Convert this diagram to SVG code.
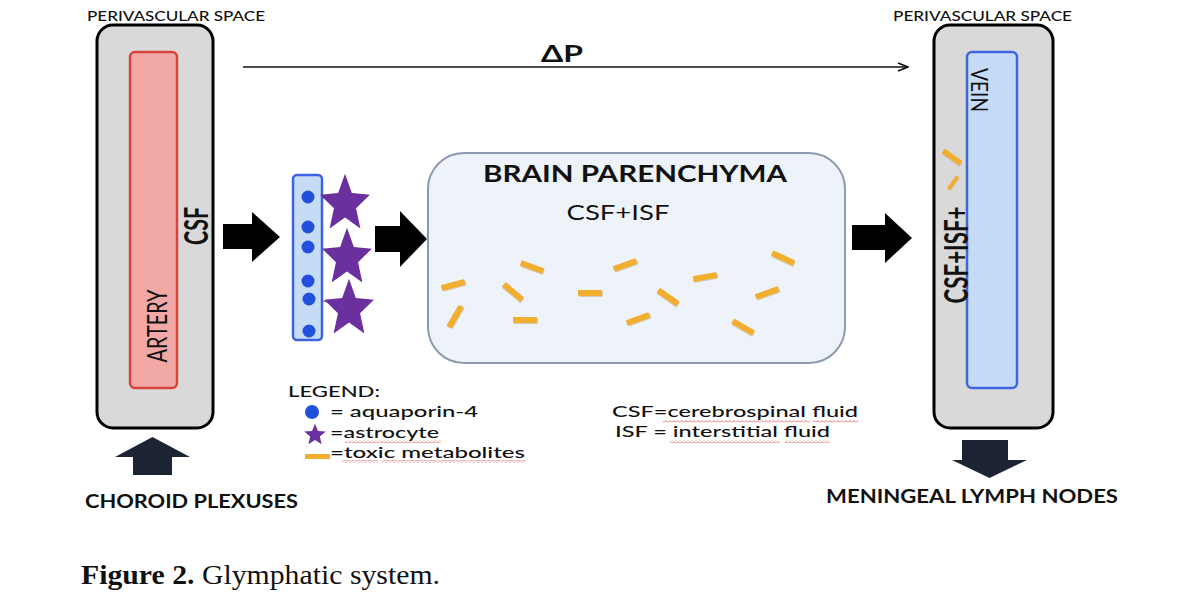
<svg xmlns="http://www.w3.org/2000/svg" width="1200" height="604" viewBox="0 0 1200 604">
<style>
.sans{font-family:Lato,"Open Sans","Liberation Sans",sans-serif;fill:#111}
.bold{font-weight:bold}
.peri{fill:#d9d9d9;stroke:#000;stroke-width:3}
.artery{fill:#f2a9a6;stroke:#d8433c;stroke-width:2.5}
.vein{fill:#c6dbf7;stroke:#3f66e0;stroke-width:2.5}
.big{fill:#1c2333}
.star{fill:#6b2f9e}
.aqp{fill:#2151dc}
.sq{fill:url(#squig)}
</style>
<defs>
<g id="met">
<rect x="-11" y="-2" width="24" height="6" rx="1" fill="#b99a72" opacity="0.45"/>
<rect x="-12" y="-3" width="24" height="6" rx="1" fill="#f2ae2e"/>
</g>
<path id="starp" d="M0,-27 L7.05,-9.71 L25.68,-8.34 L11.41,3.71 L15.87,21.84 L0,12 L-15.87,21.84 L-11.41,3.71 L-25.68,-8.34 L-7.05,-9.71 Z"/>
<marker id="open" viewBox="0 0 12 10" refX="11" refY="5" markerWidth="12" markerHeight="10" markerUnits="userSpaceOnUse" orient="auto">
<path d="M1,1 L11,5 L1,9" fill="none" stroke="#111" stroke-width="1.6"/>
</marker>
<pattern id="squig" width="4" height="3" patternUnits="userSpaceOnUse">
<path d="M0,2.5 L2,0.5 L4,2.5" fill="none" stroke="#e05050" stroke-width="0.8"/>
</pattern>
</defs>
<rect width="1200" height="604" fill="#fff"/>

<g id="left-perivascular">
<text class="sans" x="87" y="21" font-size="13" font-weight="500" textLength="178" lengthAdjust="spacingAndGlyphs">PERIVASCULAR SPACE</text>
<rect class="peri" x="97" y="25" width="116" height="403" rx="16"/>
<g id="artery">
<rect class="artery" x="130" y="52" width="47" height="336" rx="5"/>
<text class="sans" transform="translate(167,326) rotate(-90)" text-anchor="middle" font-size="27" textLength="73" lengthAdjust="spacingAndGlyphs">ARTERY</text>
</g>
<text class="sans bold" transform="translate(208,226) rotate(-90)" text-anchor="middle" font-size="33" textLength="38" lengthAdjust="spacingAndGlyphs">CSF</text>
</g>

<g id="right-perivascular">
<text class="sans" x="893" y="21" font-size="13" font-weight="500" textLength="179" lengthAdjust="spacingAndGlyphs">PERIVASCULAR SPACE</text>
<rect class="peri" x="934" y="25" width="119" height="403" rx="16"/>
<g id="vein">
<rect class="vein" x="967" y="52" width="50" height="336" rx="5"/>
<text class="sans" transform="translate(971,90) rotate(90)" text-anchor="middle" font-size="24" textLength="44" lengthAdjust="spacingAndGlyphs">VEIN</text>
</g>
<text class="sans bold" transform="translate(968,255) rotate(-90)" text-anchor="middle" font-size="33" textLength="97" lengthAdjust="spacingAndGlyphs">CSF+ISF+</text>
<use href="#met" transform="translate(952,157) rotate(35) scale(0.9)"/>
<use href="#met" transform="translate(953,183) rotate(-55) scale(0.65)"/>
</g>

<g id="astrocyte-membrane">
<line x1="308" y1="197" x2="335" y2="199" stroke="#777" stroke-width="1"/>
<line x1="308" y1="247" x2="335" y2="251" stroke="#777" stroke-width="1"/>
<line x1="309" y1="299" x2="335" y2="303" stroke="#777" stroke-width="1"/>
<rect x="293" y="175" width="29" height="165" rx="4" fill="#c6dbf5" stroke="#3d63e0" stroke-width="2.5"/>
<circle class="aqp" cx="308" cy="197" r="6.5"/>
<circle class="aqp" cx="308" cy="227" r="6.5"/>
<circle class="aqp" cx="308" cy="247" r="6.5"/>
<circle class="aqp" cx="308" cy="281" r="6.5"/>
<circle class="aqp" cx="309" cy="299" r="6.5"/>
<circle class="aqp" cx="309" cy="331" r="6.5"/>
<use class="star" href="#starp" transform="translate(345,204) scale(0.97,1.12)"/>
<use class="star" href="#starp" transform="translate(347,258) scale(0.97,1.12)"/>
<use class="star" href="#starp" transform="translate(349,309) scale(0.97,1.12)"/>
</g>

<g id="brain-parenchyma">
<rect x="428" y="153" width="417" height="210" rx="36" fill="#eef3fa" stroke="#8c9bb0" stroke-width="2"/>
<text class="sans bold" x="635" y="182" text-anchor="middle" font-size="22" textLength="304" lengthAdjust="spacingAndGlyphs">BRAIN PARENCHYMA</text>
<text class="sans" x="618" y="220" text-anchor="middle" font-size="21" textLength="103" lengthAdjust="spacingAndGlyphs">CSF+ISF</text>
<use href="#met" transform="translate(453,285) rotate(-15)"/>
<use href="#met" transform="translate(455,317) rotate(-60)"/>
<use href="#met" transform="translate(532,267) rotate(20)"/>
<use href="#met" transform="translate(513,292) rotate(40)"/>
<use href="#met" transform="translate(525,320)"/>
<use href="#met" transform="translate(590,293)"/>
<use href="#met" transform="translate(625,265) rotate(-20)"/>
<use href="#met" transform="translate(638,319) rotate(-20)"/>
<use href="#met" transform="translate(668,297) rotate(35)"/>
<use href="#met" transform="translate(705,277) rotate(-10)"/>
<use href="#met" transform="translate(783,258) rotate(25)"/>
<use href="#met" transform="translate(767,293) rotate(-20)"/>
<use href="#met" transform="translate(743,327) rotate(30)"/>
</g>

<g id="connectors">
<line x1="243" y1="67" x2="908" y2="67" stroke="#111" stroke-width="1.6" marker-end="url(#open)"/>
<text class="sans bold" x="562" y="62" text-anchor="middle" font-size="23" textLength="42" lengthAdjust="spacingAndGlyphs">ΔP</text>
<polygon fill="#000" points="223,224 252,224 252,212 280,237 252,262 252,249 223,249"/>
<polygon fill="#000" points="375,226 400,226 400,211 427,239 400,267 400,252 375,252"/>
<polygon fill="#000" points="852,225 885,225 885,213 912,238 885,263 885,250 852,250"/>
<polygon class="big" points="133,475 133,457 115,457 152.5,437 190,457 172,457 172,475"/>
<polygon class="big" points="962,440 1008,440 1008,460 1027,460 989.5,478 952,460 962,460"/>
</g>

<g id="choroid-plexuses">
<text class="sans bold" x="85" y="508" font-size="18" textLength="213" lengthAdjust="spacingAndGlyphs">CHOROID PLEXUSES</text>
</g>
<g id="meningeal-lymph-nodes">
<text class="sans bold" x="826" y="503" font-size="18" textLength="292" lengthAdjust="spacingAndGlyphs">MENINGEAL LYMPH NODES</text>
</g>

<g id="legend">
<text class="sans" x="288" y="397" font-size="16" font-weight="500" textLength="92" lengthAdjust="spacingAndGlyphs">LEGEND:</text>
<circle class="aqp" cx="312" cy="412" r="7"/>
<text class="sans" x="330" y="417" font-size="16" font-weight="500" textLength="148" lengthAdjust="spacingAndGlyphs">= aquaporin-4</text>
<use class="star" href="#starp" transform="translate(315,435) scale(0.42)"/>
<text class="sans" x="330" y="438" font-size="16" font-weight="500" textLength="109" lengthAdjust="spacingAndGlyphs">=astrocyte</text>
<rect x="305" y="454" width="25" height="5" fill="#f2ae2e"/>
<text class="sans" x="330" y="458" font-size="16" font-weight="500" textLength="195" lengthAdjust="spacingAndGlyphs">=toxic metabolites</text>
<rect class="sq" x="345" y="440" width="96" height="3"/>
<rect class="sq" x="342" y="460" width="36" height="3"/>
<rect class="sq" x="382" y="460" width="144" height="3"/>
</g>

<g id="abbreviations">
<text class="sans" x="612" y="417" font-size="16" font-weight="500" textLength="246" lengthAdjust="spacingAndGlyphs">CSF=cerebrospinal fluid</text>
<text class="sans" x="615" y="437" font-size="16" font-weight="500" textLength="215" lengthAdjust="spacingAndGlyphs">ISF = interstitial fluid</text>
<rect class="sq" x="663" y="420" width="147" height="3"/>
<rect class="sq" x="813" y="420" width="45" height="3"/>
<rect class="sq" x="670" y="440" width="110" height="3"/>
<rect class="sq" x="785" y="440" width="45" height="3"/>
</g>

<g id="caption">
<text x="81" y="584" font-family="'Liberation Serif','Times New Roman',serif" font-size="28" fill="#111" textLength="359" lengthAdjust="spacingAndGlyphs"><tspan font-weight="bold">Figure 2.</tspan> Glymphatic system.</text>
</g>
</svg>
